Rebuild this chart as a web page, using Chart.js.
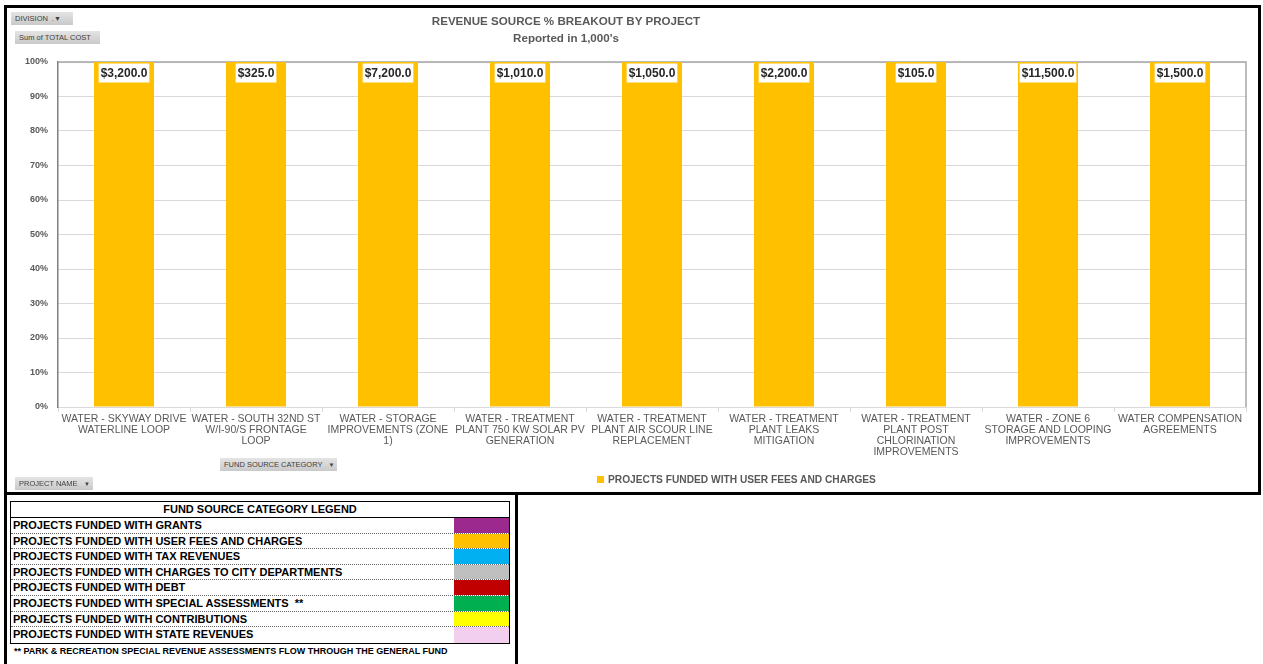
<!DOCTYPE html>
<html><head><meta charset="utf-8">
<script src="https://cdn.jsdelivr.net/npm/chart.js@4/dist/chart.umd.min.js"></script>
<style>
body{margin:0;background:#fff;width:1263px;height:664px;overflow:hidden;position:relative;font-family:"Liberation Sans",Arial,sans-serif;}
#box{position:absolute;left:4px;top:5px;width:1251px;height:484px;border:3px solid #000;}
#c{position:absolute;left:0;top:0;}
.btn{position:absolute;height:13px;line-height:13px;font-size:7.5px;color:#404040;background:linear-gradient(#e4e4e4,#c9c9c9);padding:0 4px;white-space:nowrap;box-sizing:border-box;}
#title{position:absolute;left:366px;width:400px;top:12px;text-align:center;color:#595959;font-weight:bold;font-size:11.6px;line-height:17px;}
#legend{position:absolute;left:597px;top:474px;font-size:10.2px;font-weight:bold;color:#595959;white-space:nowrap;}
#legend span.sw{display:inline-block;width:7px;height:7px;margin-right:4px;vertical-align:0px;}
#lbox{position:absolute;left:4px;top:492px;width:508px;height:172px;border:3px solid #000;border-bottom:none;}
#ltab{position:absolute;left:3px;top:6px;width:500px;height:143px;border:1.5px solid #000;box-sizing:border-box;}
#ltab .hd{height:16px;line-height:15px;border-bottom:1.5px solid #000;text-align:center;font-size:11px;font-weight:bold;box-sizing:border-box;}
#ltab .row{position:relative;height:15.6px;line-height:15px;border-bottom:1px dotted #666;box-sizing:border-box;font-size:11px;font-weight:bold;padding-left:2px;white-space:nowrap;}
#ltab .row:last-child{border-bottom:none;}
#ltab .row .sw{position:absolute;right:0;top:0;bottom:0;width:55px;}
#foot{position:absolute;left:7px;top:151px;font-size:9px;font-weight:bold;color:#000;white-space:nowrap;}
</style>
</head><body>
<div id="box"><canvas id="c" width="1251" height="484"></canvas></div>
<div id="title">REVENUE SOURCE % BREAKOUT BY PROJECT<br>Reported in 1,000's</div>
<div class="btn" style="left:11px;top:12px;width:62px;">DIVISION &nbsp;<span style="font-size:7px">.&#9660;</span></div>
<div class="btn" style="left:15px;top:31px;width:85px;">Sum of TOTAL COST</div>
<div class="btn" style="left:220px;top:458px;width:117px;">FUND SOURCE CATEGORY &nbsp;&nbsp;<span style="font-size:6px">&#9660;</span></div>
<div class="btn" style="left:15px;top:477px;width:78px;">PROJECT NAME &nbsp;&nbsp;<span style="font-size:6px">&#9660;</span></div>
<div id="legend"></div>
<div id="lbox"><div id="ltab"></div><div id="foot">** PARK &amp; RECREATION SPECIAL REVENUE ASSESSMENTS FLOW THROUGH THE GENERAL FUND</div></div>
<script>
// ---- data ----
const projects = [
  ["WATER - SKYWAY DRIVE","WATERLINE LOOP"],
  ["WATER - SOUTH 32ND ST","W/I-90/S FRONTAGE","LOOP"],
  ["WATER - STORAGE","IMPROVEMENTS (ZONE","1)"],
  ["WATER - TREATMENT","PLANT 750 KW SOLAR PV","GENERATION"],
  ["WATER - TREATMENT","PLANT AIR SCOUR LINE","REPLACEMENT"],
  ["WATER - TREATMENT","PLANT LEAKS","MITIGATION"],
  ["WATER - TREATMENT","PLANT POST","CHLORINATION","IMPROVEMENTS"],
  ["WATER - ZONE 6","STORAGE AND LOOPING","IMPROVEMENTS"],
  ["WATER COMPENSATION","AGREEMENTS"]
];
const totalCost = [3200, 325, 7200, 1010, 1050, 2200, 105, 11500, 1500];
const userFeesShare = [100, 100, 100, 100, 100, 100, 100, 100, 100];
const seriesName = "PROJECTS FUNDED WITH USER FEES AND CHARGES";
const yTicks = [0,10,20,30,40,50,60,70,80,90,100];
const fundCategories = [
  "PROJECTS FUNDED WITH GRANTS",
  "PROJECTS FUNDED WITH USER FEES AND CHARGES",
  "PROJECTS FUNDED WITH TAX REVENUES",
  "PROJECTS FUNDED WITH CHARGES TO CITY DEPARTMENTS",
  "PROJECTS FUNDED WITH DEBT",
  "PROJECTS FUNDED WITH SPECIAL ASSESSMENTS  **",
  "PROJECTS FUNDED WITH CONTRIBUTIONS",
  "PROJECTS FUNDED WITH STATE REVENUES"
];
const fundColors = ["#9C2A8E","#FFC000","#00B0F0","#BFBFBF","#C00000","#00B050","#FFFF00","#F2CEEF"];

// legend table
let html = '<div class="hd">FUND SOURCE CATEGORY LEGEND</div>';
fundCategories.forEach((c,i)=>{
  html += '<div class="row">'+c.replace(/  /g,'&nbsp; ')+'<span class="sw" style="background:'+fundColors[i]+'"></span></div>';
});
document.getElementById('ltab').innerHTML = html;

const frame = {
  id:'frame',
  beforeDatasetsDraw(chart){
    const a = chart.chartArea, ctx = chart.ctx;
    ctx.save();
    ctx.strokeStyle = '#a6a6a6'; ctx.lineWidth = 1.5;
    ctx.beginPath();
    ctx.moveTo(a.left, a.top); ctx.lineTo(a.right, a.top); ctx.lineTo(a.right, a.bottom);
    ctx.stroke();
    ctx.restore();
  }
};
const valueLabels = {
  id:'valueLabels',
  afterDatasetsDraw(chart){
    const ctx = chart.ctx;
    const meta = chart.getDatasetMeta(0);
    ctx.save();
    ctx.font = 'bold 12px "Liberation Sans", Arial, sans-serif';
    ctx.textAlign = 'center'; ctx.textBaseline = 'middle';
    meta.data.forEach((bar,i)=>{
      const txt = '$' + totalCost[i].toLocaleString('en-US',{minimumFractionDigits:1,maximumFractionDigits:1});
      const w = ctx.measureText(txt).width + 4, h = 19;
      const x = bar.x, y = bar.y + 1.5;
      ctx.fillStyle = '#fff';
      ctx.fillRect(x - w/2, y, w, h);
      ctx.fillStyle = '#262626';
      ctx.fillText(txt, x, y + h/2 + 1);
    });
    ctx.restore();
  }
};

const chart = new Chart(document.getElementById('c'), {
  type:'bar',
  data:{
    labels: projects,
    datasets:[{label: seriesName, data: userFeesShare, backgroundColor:'#FFC000', borderWidth:0,
      categoryPercentage:1, barPercentage:0.455}]
  },
  options:{
    responsive:false, animation:false,
    layout:{padding:{left:0, right:12, top:54, bottom:0}},
    plugins:{legend:{display:false}, tooltip:{enabled:false}, title:{display:false}},
    scales:{
      x:{
        stacked:true,
        grid:{drawOnChartArea:false, drawTicks:true, tickLength:5, color:'#d9d9d9', offset:true},
        border:{color:'#d9d9d9'},
        ticks:{autoSkip:false, maxRotation:0, minRotation:0, padding:1, color:'#595959',
          font:{family:'"Liberation Sans", Arial, sans-serif', size:10.5, lineHeight:1.07}},
        afterFit(s){ s.height = 85; }
      },
      y:{
        stacked:true, min:0, max:100,
        afterBuildTicks(s){ s.ticks = yTicks.map(v=>({value:v})); },
        grid:{color:'#d9d9d9', drawTicks:false},
        border:{color:'#7f7f7f', width:1.5},
        ticks:{padding:10, color:'#595959', callback:v=>v+'%',
          font:{family:'"Liberation Sans", Arial, sans-serif', size:9, weight:'bold'}},
        afterFit(s){ s.width = 51; }
      }
    }
  },
  plugins:[frame, valueLabels]
});

// HTML legend from dataset
const ds = chart.data.datasets[0];
document.getElementById('legend').innerHTML = '<span class="sw" style="background:'+ds.backgroundColor+'"></span>'+ds.label;
</script>
</body></html>
